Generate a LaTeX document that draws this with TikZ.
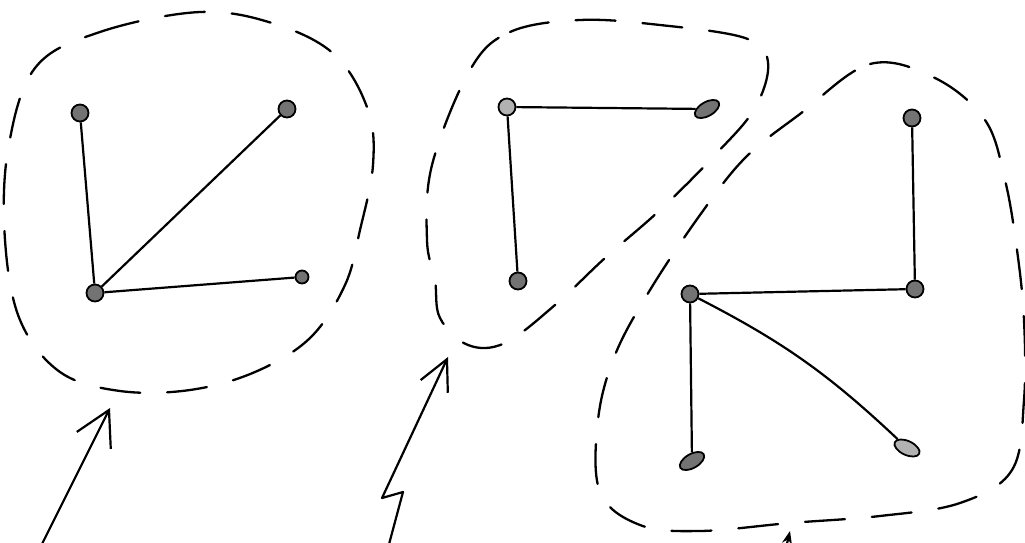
\documentclass[tikz,border=0pt]{standalone}
\usepackage{tikz}
\usetikzlibrary{shapes,arrows.meta}

\begin{document}
\begin{tikzpicture}[x=1pt, y=-1pt,
    vertex/.style={circle, draw, line width=1.8pt, fill=black!55, minimum size=17pt, inner sep=0pt},
    blobvertex/.style={vertex, ellipse, minimum width=27pt, minimum height=14pt},
    edge/.style={line width=2.2pt},
    cluster/.style={line width=2.3pt, dash pattern=on 40pt off 27pt, line cap=round},
    pointer/.style={line width=2.2pt, line cap=round, line join=round}]
    \useasboundingbox (0,0) rectangle (1025,543);

    % Left group: star
    \node[vertex] (a0) at (95,293) {};
    \node[vertex] (a1) at (80,113) {};
    \node[vertex] (a2) at (287,109) {};
    \node[vertex, minimum size=13pt] (a3) at (302,277) {};
    \foreach \v in {a1,a2,a3} {
      \draw[edge] (a0) -- (\v);
    }
    \draw[cluster] plot[smooth cycle, tension=0.6] coordinates {(35,68) (100,32) (200,12) (275,24) (335,55) (368,110) (373,165) (360,230) (345,285) (310,338) (255,372) (190,390) (120,391) (60,372) (20,320) (5,240) (8,150)};

    % Middle group: corner
    \node[vertex, fill=black!30] (b0) at (507,107) {};
    \node[blobvertex, rotate=30] (b1) at (707,109) {};
    \node[vertex] (b2) at (518,281) {};
    \draw[edge] (b0) -- (b1);
    \draw[edge] (b0) -- (b2);
    \draw[cluster] plot[smooth cycle, tension=0.6] coordinates {(470,70) (510,32) (580,20) (660,25) (745,38) (768,62) (755,108) (715,155) (660,210) (605,258) (555,305) (505,343) (468,345) (440,318) (435,280) (427,240) (432,165)};

    % Right group
    \node[vertex] (c0) at (690,294) {};
    \node[vertex] (c1) at (912,118) {};
    \node[vertex] (c2) at (915,289) {};
    \node[blobvertex, rotate=30] (c3) at (692,461) {};
    \node[blobvertex, rotate=-25, fill=black!30] (c4) at (907,448) {};
    \draw[edge] (c1) -- (c2);
    \draw[edge] (c0) -- (c2);
    \draw[edge] (c0) -- (c3);
    \draw[edge] (c0) to[bend left=8] (c4);
    \draw[cluster] plot[smooth cycle, tension=0.6] coordinates {(800,114) (870,64) (935,78) (985,120) (1005,180) (1017,250) (1024,320) (1024,400) (1012,470) (960,503) (880,516) (790,523) (700,531) (640,525) (600,492) (598,420) (615,355) (650,290) (700,215) (745,158)};

    % Pointers from below
    \coordinate (p1) at (40,548);
    \coordinate (t1) at (110,408);
    \draw[pointer, -{Straight Barb[length=34pt, width=38pt, line width=2.2pt]}] (p1) -- (t1);
    \coordinate (p2) at (388,548);
    \coordinate (t2) at (448,357);
    \draw[pointer, -{Straight Barb[length=30pt, width=30pt, line width=2.2pt]}] (p2) -- (403,492) -- (382,498) -- (t2);
    \coordinate (p3) at (785,552);
    \coordinate (t3) at (790,531);
    \draw[pointer, -{Stealth[length=13pt, width=10pt]}] (p3) -- (t3);
\end{tikzpicture}
\end{document}
